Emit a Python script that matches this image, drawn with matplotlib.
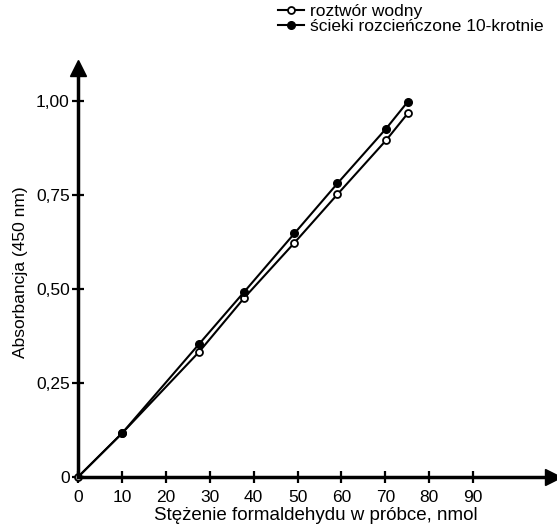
import matplotlib.pyplot as plt

plt.rcParams['font.family'] = ['Liberation Sans', 'DejaVu Sans']

# stężenie formaldehydu (nmol)
x_wodny = [0, 10, 27.6, 37.9, 49.3, 59.1, 70.2, 75.1]
y_wodny = [0, 0.116, 0.333, 0.477, 0.623, 0.752, 0.896, 0.967]

x_scieki = [0, 10, 27.6, 37.9, 49.3, 59.1, 70.2, 75.1]
y_scieki = [0, 0.116, 0.354, 0.493, 0.648, 0.781, 0.927, 0.998]

x_ticks = [0, 10, 20, 30, 40, 50, 60, 70, 80, 90]
y_ticks = [0, 0.25, 0.50, 0.75, 1.00]
y_tick_labels = ["0", "0,25", "0,50", "0,75", "1,00"]


def main():
    fig = plt.figure(figsize=(5.57, 5.29), dpi=100)
    ax = fig.add_axes([78 / 557, 52 / 529, 475 / 557, 409 / 529])

    ax.plot(x_wodny, y_wodny, color="black", lw=1.5, marker="o", ms=5,
            mfc="white", mec="black", mew=1.3, label="roztwór wodny", clip_on=False)
    ax.plot(x_scieki[1:], y_scieki[1:], color="black", lw=1.5, marker="o", ms=5.5,
            mfc="black", mec="black", label="ścieki rozcieńczone 10-krotnie", clip_on=False)
    ax.plot(x_scieki[:2], y_scieki[:2], color="black", lw=1.5)

    ax.set_xlim(0, 108.2)
    ax.set_ylim(0, 1.088)
    ax.set_xticks(x_ticks)
    ax.set_yticks(y_ticks)
    ax.set_yticklabels(y_tick_labels)

    for s in ["top", "right"]:
        ax.spines[s].set_visible(False)
    for s in ["left", "bottom"]:
        ax.spines[s].set_linewidth(2.5)
    ax.tick_params(direction="inout", length=8, width=1.6, labelsize=12.5)
    ax.tick_params(axis="x", pad=5)
    ax.tick_params(axis="y", pad=2)

    # arrow heads
    ax.plot(1, 0, ">", color="black", ms=12, transform=ax.transAxes, clip_on=False)
    ax.plot(0, 1, "^", color="black", ms=12, transform=ax.transAxes, clip_on=False)

    ax.set_xlabel("Stężenie formaldehydu w próbce, nmol", fontsize=13.5, labelpad=2)
    ax.set_ylabel("Absorbancja (450 nm)", fontsize=12.5, labelpad=6)

    fig.legend(loc="upper left", bbox_to_anchor=(268 / 557, 1.012), frameon=False,
               fontsize=12.5, handlelength=1.5, handletextpad=0.3,
               labelspacing=0.0, borderaxespad=0.2)

    fig.savefig("out.png", dpi=100)


if __name__ == "__main__":
    main()
